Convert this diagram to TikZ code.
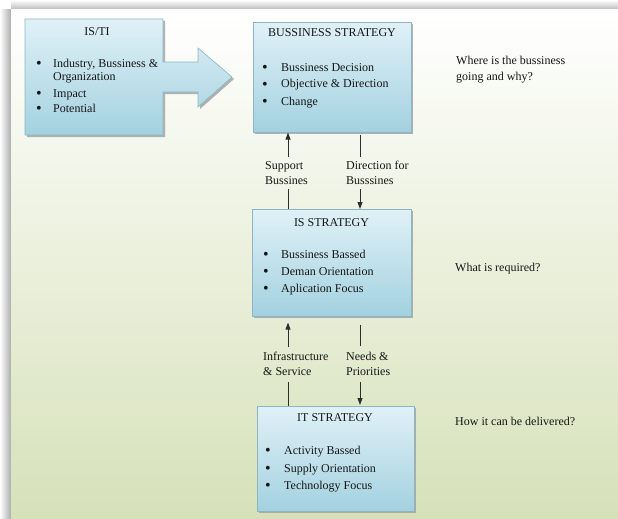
\documentclass[tikz,border=0pt]{standalone}
\usepackage{fontspec}
\setmainfont{Liberation Serif}
\usetikzlibrary{arrows.meta,shadows,calc}
\definecolor{boxtop}{RGB}{224,241,247}
\definecolor{boxbot}{RGB}{163,209,224}
\definecolor{boxline}{RGB}{140,182,198}
\definecolor{bgbot}{RGB}{214,225,185}
\definecolor{textc}{RGB}{22,22,22}
\definecolor{linec}{RGB}{45,45,45}
\begin{document}
\begin{tikzpicture}[x=1pt,y=-1pt,
  box/.style={draw=boxline, line width=0.6pt, top color=boxtop, bottom color=boxbot,
    drop shadow={shadow xshift=2pt, shadow yshift=-2pt, fill=gray!75, opacity=0.8}},
  rbox/.style={box, anchor=north west, inner sep=0pt},
  txt/.style={font=\fontsize{12}{14}\selectfont, text=textc, inner sep=0pt, anchor=base west},
  ctr/.style={txt, anchor=base},
  bul/.style={font=\fontsize{16}{16}\selectfont, text=textc, inner sep=0pt, anchor=base,
    text height=6pt, text depth=0pt},
  link/.style={draw=linec, line width=0.9pt},
  arr/.style={link, -{Triangle[length=7pt,width=5pt]}}]
\useasboundingbox (0,0) rectangle (618,519);
% background panel and its shadow
\fill[white] (0,0) rectangle (618,519);
\shade[left color=white, right color=gray!65] (0,10) rectangle (11,519);
\shade[top color=white, bottom color=gray!55] (11,0) rectangle (618,10);
\shade[top color=white, bottom color=bgbot] (11,10) rectangle (618,519);
% IS/TI box with its arrow
\path[box] (25,19) -- (163,19) -- (163,62) -- (198,62) -- (198,48) -- (232,77)
  -- (198,107) -- (198,92) -- (163,92) -- (163,135) -- (25,135) -- cycle;
\node[ctr] (isti) at (97,36) {IS/TI};
\node[bul] (istib1) at (39,68) {•};
\node[txt] (isti1) at (53,67) {Industry, Bussiness \&};
\node[txt] (isti1b) at (53,81) {Organization};
\node[bul] (istib2) at (39,98) {•};
\node[txt] (isti2) at (53,97) {Impact};
\node[bul] (istib3) at (39,113) {•};
\node[txt] (isti3) at (53,112) {Potential};
% boxes
\node[rbox, minimum width=158pt, minimum height=110pt] (bs) at (253,22) {};
\node[rbox, minimum width=159pt, minimum height=107pt] (is) at (252,209) {};
\node[rbox, minimum width=157pt, minimum height=105pt] (it) at (257,406) {};
% business strategy
\node[ctr] (bst) at (332,37) {BUSSINESS STRATEGY};
\node[bul] (bsb1) at (265,72) {•};
\node[txt] (bs1) at (281,71) {Bussiness Decision};
\node[bul] (bsb2) at (265,89) {•};
\node[txt] (bs2) at (281,88) {Objective \& Direction};
\node[bul] (bsb3) at (265,106) {•};
\node[txt] (bs3) at (281,105) {Change};
% IS strategy
\node[ctr] (ist) at (331.5,226) {IS STRATEGY};
\node[bul] (isb1) at (266,259) {•};
\node[txt] (is1) at (281,258) {Bussiness Bassed};
\node[bul] (isb2) at (266,276.5) {•};
\node[txt] (is2) at (281,275.5) {Deman Orientation};
\node[bul] (isb3) at (266,293) {•};
\node[txt] (is3) at (281,292) {Aplication Focus};
% IT strategy
\node[ctr] (itt) at (335,421) {IT STRATEGY};
\node[bul] (itb1) at (268,455) {•};
\node[txt] (it1) at (284,454) {Activity Bassed};
\node[bul] (itb2) at (268,473) {•};
\node[txt] (it2) at (284,472) {Supply Orientation};
\node[bul] (itb3) at (268,490) {•};
\node[txt] (it3) at (284,489) {Technology Focus};
% questions
\node[txt] (q1a) at (456,65) {Where is the bussiness};
\node[txt] (q1b) at (456,81) {going and why?};
\node[txt] (q2) at (455,271) {What is required?};
\node[txt] (q3) at (455,425) {How it can be delivered?};
% connector labels
\node[txt] (sup1) at (265,169) {Support};
\node[txt] (sup2) at (265,184) {Bussines};
\node[txt] (dir1) at (346,169) {Direction for};
\node[txt] (dir2) at (346,184) {Busssines};
\node[txt] (inf1) at (263,360) {Infrastructure};
\node[txt] (inf2) at (263,375) {\& Service};
\node[txt] (need1) at (346,360) {Needs \&};
\node[txt] (need2) at (346,375) {Priorities};
% connector ends
\coordinate (supTop) at (288,157);
\coordinate (supBot) at (288,189);
\coordinate (dirTop) at (360,157);
\coordinate (dirBot) at (360,189);
\coordinate (infTop) at (288,347);
\coordinate (infBot) at (288,382);
\coordinate (needTop) at (360,346);
\coordinate (needBot) at (360,382);
% connectors
\draw[arr] (supTop) -- (supTop |- bs.south);
\draw[link] (supBot) -- (supBot |- is.north);
\draw[link, shorten <=2pt] (dirTop |- bs.south) -- (dirTop);
\draw[arr] (dirBot) -- (dirBot |- is.north);
\draw[arr, shorten >=6pt] (infTop) -- (infTop |- is.south);
\draw[link, shorten <=8pt] (needTop |- is.south) -- (needTop);
\draw[link] (infBot) -- (infBot |- it.north);
\draw[arr, shorten >=1pt] (needBot) -- (needBot |- it.north);
\end{tikzpicture}
\end{document}
